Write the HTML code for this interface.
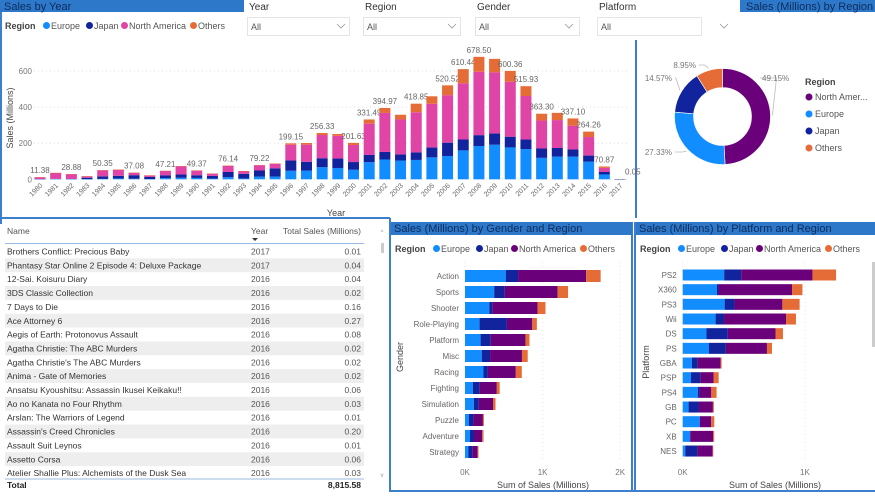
<!DOCTYPE html>
<html><head><meta charset="utf-8">
<style>
html,body{margin:0;padding:0;background:#fff;}
body{width:875px;height:492px;overflow:hidden;font-family:"Liberation Sans",sans-serif;}
svg text{font-family:"Liberation Sans",sans-serif;}
</style></head>
<body>
<svg id="dash" width="875" height="492" viewBox="0 0 875 492" xmlns="http://www.w3.org/2000/svg">
  <g stroke="#3c7fcc" stroke-width="2" fill="none">
    <line x1="1" y1="12" x2="1" y2="220"/>
    <line x1="636" y1="40" x2="636" y2="218"/>
    <line x1="0" y1="218" x2="390" y2="218"/>
    <line x1="1" y1="218" x2="1" y2="224"/>
    <line x1="390" y1="218" x2="390" y2="224"/>
    <line x1="390" y1="222" x2="390" y2="492"/>
    <line x1="632" y1="222" x2="632" y2="492"/>
    <line x1="635" y1="222" x2="635" y2="492"/>
    <line x1="390" y1="491" x2="875" y2="491"/>
  </g>
  <rect x="0" y="0" width="244" height="12" fill="#2e78c9"/>
  <text x="4" y="10" font-size="11" fill="#0d2c5c">Sales by Year</text>
  <rect x="740" y="0" width="135" height="12" fill="#2e78c9"/>
  <text x="746" y="10" font-size="11" fill="#0d2c5c">Sales (Millions) by Region</text>
  <rect x="391" y="222" width="241" height="13" fill="#2e78c9"/>
  <text x="394" y="232" font-size="11" fill="#0d2c5c">Sales (Millions) by Gender and Region</text>
  <rect x="636" y="222" width="239" height="13" fill="#2e78c9"/>
  <text x="639" y="232" font-size="11" fill="#0d2c5c">Sales (Millions) by Platform and Region</text>

  <g>
    <text x="249" y="10" font-size="10" fill="#333">Year</text>
    <rect x="247.5" y="17.5" width="102" height="18" fill="#fff" stroke="#e4e4e4"/>
    <text x="251" y="30" font-size="9" fill="#555">All</text>
    <polyline points="337,24 341,28 345,24" fill="none" stroke="#999" stroke-width="0.8"/>
  </g>
  <g>
    <text x="365" y="10" font-size="10" fill="#333">Region</text>
    <rect x="363.5" y="17.5" width="97" height="18" fill="#fff" stroke="#e4e4e4"/>
    <text x="367" y="30" font-size="9" fill="#555">All</text>
    <polyline points="448,24 452,28 456,24" fill="none" stroke="#999" stroke-width="0.8"/>
  </g>
  <g>
    <text x="477" y="10" font-size="10" fill="#333">Gender</text>
    <rect x="475.5" y="17.5" width="104" height="18" fill="#fff" stroke="#e4e4e4"/>
    <text x="479" y="30" font-size="9" fill="#555">All</text>
    <polyline points="565,24 569,28 573,24" fill="none" stroke="#999" stroke-width="0.8"/>
  </g>
  <g>
    <text x="599" y="10" font-size="10" fill="#333">Platform</text>
    <rect x="597.5" y="17.5" width="104" height="18" fill="#fff" stroke="#e4e4e4"/>
    <text x="601" y="30" font-size="9" fill="#555">All</text>
    <polyline points="720,24 724,28 728,24" fill="none" stroke="#999" stroke-width="0.8"/>
  </g>

  <g id="yearChart"></g>
  <g id="donut"></g>
  <g id="table"></g>
  <g id="genderChart"></g>
  <g id="platformChart"></g>
</svg>
<script>
const years = [1980,1981,1982,1983,1984,1985,1986,1987,1988,1989,1990,1991,1992,1993,1994,1995,1996,1997,1998,1999,2000,2001,2002,2003,2004,2005,2006,2007,2008,2009,2010,2011,2012,2013,2014,2015,2016,2017];
const yearEU = [0.7,2,1.6,0.8,2.1,4.7,3,1.4,6.6,8.4,7.6,3.9,11.7,4.7,14.9,14.9,47.3,48.3,66.9,62.7,52.8,94.9,109.7,103.8,107.3,121.6,129.2,160.2,184.4,191.6,176.6,167.4,118.8,125.8,125.7,97.7,26.8,0];
const yearJP = [0,0,0,8.1,14.3,14.6,19.8,11.6,15.8,18.4,14.9,14.8,28.9,25.3,33.9,45.8,57.4,48.9,50,52.3,42.8,39.9,41.8,34.2,41.7,54.3,73.7,60.3,60.3,61.9,59.5,53,51.8,47.6,39.5,33.7,13.7,0.05];
const yearNA = [10.6,33.4,26.9,7.8,33.3,33.7,12.5,8.5,23.9,45.2,25.5,12.8,33.9,15.1,28.2,24.8,86.8,94.8,128.4,126.1,94.5,173.1,216.2,193.6,222.6,242.6,263.1,311.1,351.4,338.9,304.2,241.2,154.9,154.8,132,102.8,22.7,0];
const yearOT = [0.1,0.3,0.4,0.1,0.7,0.9,1.8,0.2,0.9,1.5,1.4,0.7,1.7,0.9,2.2,2.6,7.7,9,11,10,11.6,23.6,27.3,26.2,47.3,41.4,54.5,78.8,82.4,74.9,60.1,54.3,37.8,39.9,40,30,7.7,0];
const yearLabels = ["11.38","","28.88","","50.35","","37.08","","47.21","","49.37","","76.14","","79.22","","199.15","","256.33","","201.63","331.49","394.97","","418.85","","520.52","610.44","678.50","","600.36","515.93","363.30","","337.10","264.26","70.87","0.05"];
const yTicks = [0,200,400,600];

const regions = ["North America","Europe","Japan","Others"];
const regionShare = [49.15,27.33,14.57,8.95];

const genres = ["Action","Sports","Shooter","Role-Playing","Platform","Misc","Racing","Fighting","Simulation","Puzzle","Adventure","Strategy"];
const genreEU = [525,376,314,188,201,216,238,101,114,51,64,45];
const genreJP = [159,135,38,352,131,107,57,88,64,57,52,50];
const genreNA = [877,683,582,327,447,411,360,221,183,123,106,68];
const genreOT = [187,134,103,59,52,74,77,37,32,13,17,11];
const genreTicks = [0,1000,2000];

const platforms = ["PS2","X360","PS3","Wii","DS","PS","GBA","PSP","PS4","GB","PC","XB","NES"];
const platEU = [339,280,343,269,194,213,75,68,124,48,140,60,21];
const platJP = [139,13,80,69,175,140,47,76,14,85,0.2,1.4,99];
const platNA = [583,601,392,507,390,336,188,108,96,114,93,187,125];
const platOT = [193,85,141,81,61,41,8,42,43,8,25,9,5];
const platTicks = [0,1000];

const gameNames = ["Brothers Conflict: Precious Baby","Phantasy Star Online 2 Episode 4: Deluxe Package","12-Sai. Koisuru Diary","3DS Classic Collection","7 Days to Die","Ace Attorney 6","Aegis of Earth: Protonovus Assault","Agatha Christie: The ABC Murders","Agatha Christie's The ABC Murders","Anima - Gate of Memories","Ansatsu Kyoushitsu: Assassin Ikusei Keikaku!!","Ao no Kanata no Four Rhythm","Arslan: The Warriors of Legend","Assassin's Creed Chronicles","Assault Suit Leynos","Assetto Corsa","Atelier Shallie Plus: Alchemists of the Dusk Sea"];
const gameYears = [2017,2017,2016,2016,2016,2016,2016,2016,2016,2016,2016,2016,2016,2016,2016,2016,2016];
const gameSales = ["0.01","0.04","0.04","0.02","0.16","0.27","0.08","0.02","0.02","0.02","0.06","0.03","0.01","0.20","0.01","0.06","0.03"];
const totalSales = "8,815.58";

const NS = "http://www.w3.org/2000/svg";
const C_EU = "#118DFF", C_JP = "#12239E", C_NA_PINK = "#E044A7", C_NA = "#6B007B", C_OT = "#E66C37";
function mk(tag, attrs, parent, txt) {
  const e = document.createElementNS(NS, tag);
  for (const k in attrs) e.setAttribute(k, attrs[k]);
  if (txt !== undefined) e.textContent = txt;
  parent.appendChild(e);
  return e;
}
function legend(parent, x, y, naColor, fs) {
  const t = mk("text", {x: x, y: y, "font-size": fs, "font-weight": "bold", fill: "#444"}, parent, "Region");
  
  
  const items = [["Europe", C_EU], ["Japan", C_JP], ["North America", naColor], ["Others", C_OT]];
  const widths = [43, 35, 69, 40];
  let cx = x + 38;
  items.forEach((it, i) => {
    const g = mk("g", {}, parent);
    
    
    mk("circle", {cx: cx + 3.5, cy: y - 3.5, r: 3.5, fill: it[1]}, g);
    mk("text", {x: cx + 8, y: y, "font-size": fs, fill: "#555"}, g, it[0]);
    cx += widths[i];
  });
}

(function () {
  const g = document.getElementById("yearChart");
  legend(g, 5, 29, C_NA_PINK, 9);
  const x0 = 40, step = (620 - 40) / (years.length - 1), bw = 11;
  const yBase = 179.3, pxPer = (179.3 - 71) / 600;
  const ys = v => yBase - v * pxPer;
  const xs = i => x0 + i * step;
  yTicks.forEach(t => {
    const gl = mk("line", {x1: 34, x2: 630, y1: ys(t), y2: ys(t), stroke: "#ddd", "stroke-dasharray": "1,3"}, g);
    
    
    const tl = mk("text", {x: 32, y: ys(t) + 3, "font-size": 8, fill: "#777", "text-anchor": "end"}, g, String(t));
    
    
  });
  const yt = mk("text", {x: 0, y: 0, "font-size": 9, fill: "#444", "text-anchor": "middle", transform: "translate(13,118) rotate(-90)"}, g, "Sales (Millions)");
  
  
  const xt = mk("text", {x: 336, y: 216, "font-size": 9, fill: "#444", "text-anchor": "middle"}, g, "Year");
  
  
  years.forEach((yr, i) => {
    const cx = xs(i);
    const segs = [[yearEU[i], C_EU], [yearJP[i], C_JP], [yearNA[i], C_NA_PINK], [yearOT[i], C_OT]];
    let acc = 0;
    segs.forEach((s, k) => {
      if (s[0] <= 0) return;
      const r = mk("rect", {x: cx - bw / 2, y: ys(acc + s[0]), width: bw, height: Math.max(ys(acc) - ys(acc + s[0]), 0.4), fill: s[1]}, g);
      
      
      acc += s[0];
    });
    const tick = mk("text", {x: 0, y: 0, "font-size": 7, fill: "#666", "text-anchor": "end", transform: "translate(" + (cx + 3) + ",186) rotate(-45)"}, g, String(yr));
    
    
    if (yearLabels[i]) {
      const last = i === years.length - 1;
      const lx = last ? cx + 5 : cx;
      const ly = last ? ys(acc) - 5 : ys(acc) - 4;
      const dl = mk("text", {x: lx, y: ly, "font-size": 8, fill: "#666", "text-anchor": last ? "start" : "middle"}, g, yearLabels[i]);
      
      
    }
  });
})();

(function () {
  const g = document.getElementById("donut");
  const cx = 722.5, cy = 116.5, R = 48, r = 29;
  const cols = [C_NA, C_EU, C_JP, C_OT];
  const total = regionShare.reduce((a, b) => a + b, 0);
  let a0 = -Math.PI / 2;
  const labelPos = [[762, 81, "start"], [672, 155, "end"], [672, 81, "end"], [696, 68, "end"]];
  regionShare.forEach((v, i) => {
    const a1 = a0 + v / total * 2 * Math.PI;
    const large = (a1 - a0) > Math.PI ? 1 : 0;
    const p = (ang, rad) => [cx + rad * Math.cos(ang), cy + rad * Math.sin(ang)];
    const [x1, y1] = p(a0, R), [x2, y2] = p(a1, R), [x3, y3] = p(a1, r), [x4, y4] = p(a0, r);
    const path = mk("path", {d: `M${x1},${y1} A${R},${R} 0 ${large} 1 ${x2},${y2} L${x3},${y3} A${r},${r} 0 ${large} 0 ${x4},${y4} Z`, fill: cols[i], stroke: "#fff", "stroke-width": 0.6}, g);
    
    
    const mid = (a0 + a1) / 2;
    const [ex, ey] = p(mid, R + 2);
    const lp = labelPos[i];
    const lx2 = lp[2] === "start" ? lp[0] - 2 : lp[0] + 3;
    mk("polyline", {points: `${ex},${ey} ${ex + (lp[2] === "start" ? 4 : -4)},${lp[1] - 3} ${lx2},${lp[1] - 3}`, fill: "none", stroke: "#bbb", "stroke-width": 0.8}, g);
    const t = mk("text", {x: lp[0], y: lp[1], "font-size": 8, fill: "#777", "text-anchor": lp[2]}, g, v.toFixed(2) + "%");
    
    
    a0 = a1;
  });
  const lt = mk("text", {x: 805, y: 85, "font-size": 9, "font-weight": "bold", fill: "#444"}, g, "Region");
  
  
  const names = ["North Amer...", "Europe", "Japan", "Others"];
  names.forEach((n, i) => {
    const e = mk("g", {}, g);
    
    
    mk("circle", {cx: 809, cy: 97 + i * 17, r: 3.5, fill: cols[i]}, e);
    mk("text", {x: 815, y: 100 + i * 17, "font-size": 9, fill: "#555"}, e, n);
  });
})();

(function () {
  const g = document.getElementById("table");
  const hdr = [["Name", 7, "start"], ["Year", 251, "start"], ["Total Sales (Millions)", 361, "end"]];
  hdr.forEach(h => {
    const t = mk("text", {x: h[1], y: 234, "font-size": 8.5, fill: "#555", "text-anchor": h[2]}, g, h[0]);
    
    
  });
  mk("path", {d: "M252,238 L258,238 L255,241 Z", fill: "#333"}, g);
  mk("line", {x1: 5, x2: 364, y1: 243.5, y2: 243.5, stroke: "#9bbbe0"}, g);
  const rowH = 13.85, top = 244.5;
  gameNames.forEach((n, i) => {
    const row = mk("g", {}, g);
    
    
    if (i % 2 === 1) mk("rect", {x: 5, y: top + i * rowH, width: 359, height: rowH, fill: "#eeeeee"}, row);
    const by = top + i * rowH + 10;
    mk("text", {x: 7, y: by, "font-size": 8.5, fill: "#333"}, row, n);
    mk("text", {x: 251, y: by, "font-size": 8.5, fill: "#555"}, row, String(gameYears[i]));
    mk("text", {x: 361, y: by, "font-size": 8.5, fill: "#555", "text-anchor": "end"}, row, gameSales[i]);
  });
  mk("line", {x1: 5, x2: 364, y1: 479, y2: 479, stroke: "#9bbbe0"}, g);
  const tl = mk("text", {x: 7, y: 488, "font-size": 8.5, "font-weight": "bold", fill: "#222"}, g, "Total");
  
  
  const tv = mk("text", {x: 361, y: 488, "font-size": 8.5, "font-weight": "bold", fill: "#222", "text-anchor": "end"}, g, totalSales);
  
  
  const sb = mk("g", {}, g);
  
  
  mk("text", {x: 382, y: 234, "font-size": 6, fill: "#999", "text-anchor": "middle"}, sb, "^");
  mk("rect", {x: 381, y: 243, width: 3, height: 10, fill: "#ccc"}, sb);
  mk("text", {x: 382, y: 477, "font-size": 6, fill: "#999", "text-anchor": "middle"}, sb, "v");
})();

function hbar(gid, cats, eu, jp, na, ot, ticks, cfg) {
  const g = document.getElementById(gid);
  legend(g, cfg.legX, 252, C_NA, 9);
  const xs = v => cfg.x0 + v * cfg.pxPerK / 1000;
  ticks.forEach(t => {
    const gl = mk("line", {x1: xs(t), x2: xs(t), y1: 262, y2: 462, stroke: "#e6e6e6", "stroke-dasharray": "1,3"}, g);
    
    
    const tl = mk("text", {x: xs(t), y: 475, "font-size": 8, fill: "#777", "text-anchor": "middle"}, g, (t / 1000) + "K");
    
    
  });
  const xt = mk("text", {x: cfg.xTitleX, y: 488, "font-size": 9, fill: "#444", "text-anchor": "middle"}, g, "Sum of Sales (Millions)");
  
  
  const yt = mk("text", {x: 0, y: 0, "font-size": 9, fill: "#444", "text-anchor": "middle", transform: `translate(${cfg.yTitleX},${cfg.yTitleY}) rotate(-90)`}, g, cfg.yTitle);
  
  
  cats.forEach((c, i) => {
    const cy = cfg.y0 + i * cfg.step;
    const cl = mk("text", {x: cfg.x0 - 6, y: cy + 3, "font-size": 8, fill: "#666", "text-anchor": "end"}, g, c);
    
    
    const segs = [[eu[i], C_EU, "europe"], [jp[i], C_JP, "japan"], [na[i], C_NA, "north-america"], [ot[i], C_OT, "others"]];
    let acc = 0;
    segs.forEach(s => {
      const r = mk("rect", {x: xs(acc), y: cy - cfg.bh / 2, width: Math.max(xs(acc + s[0]) - xs(acc), 0), height: cfg.bh, fill: s[1]}, g);
      
      
      acc += s[0];
    });
  });
}
hbar("genderChart", genres, genreEU, genreJP, genreNA, genreOT, genreTicks,
  {x0: 465, pxPerK: 77.6, y0: 276, step: 16, bh: 12, legX: 395, xTitleX: 543, yTitle: "Gender", yTitleX: 403, yTitleY: 357});
hbar("platformChart", platforms, platEU, platJP, platNA, platOT, platTicks,
  {x0: 682.7, pxPerK: 122.3, y0: 275, step: 14.67, bh: 11, legX: 640, xTitleX: 775, yTitle: "Platform", yTitleX: 649, yTitleY: 362});
(function () {
  const g = document.getElementById("platformChart");
  const sb = mk("rect", {x: 872, y: 262, width: 3, height: 85, fill: "#ccc"}, g);
  
  
})();
</script>
</body></html>
